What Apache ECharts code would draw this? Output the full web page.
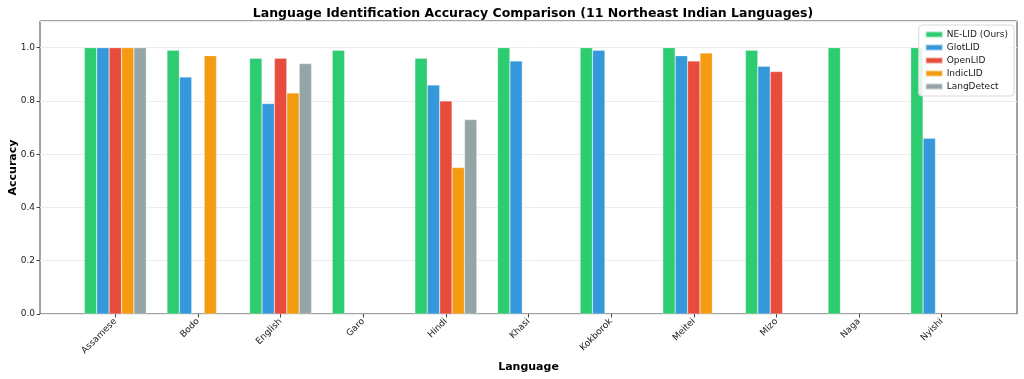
<!DOCTYPE html>
<html>
<head>
<meta charset="utf-8">
<script src="https://cdn.jsdelivr.net/npm/echarts@6/dist/echarts.min.js"></script>
<style>html,body{margin:0;padding:0;background:#fff}#c{width:1024px;height:379px}</style>
</head>
<body>
<div id="c"></div>
<script>
const categories = ['Assamese','Bodo','English','Garo','Hindi','Khasi','Kokborok','Meitei','Mizo','Naga','Nyishi'];
const seriesNames = ['NE-LID (Ours)','GlotLID','OpenLID','IndicLID','LangDetect'];
const neLid      = [1.00, 0.99, 0.96, 0.99, 0.96, 1.00, 1.00, 1.00, 0.99, 1.00, 1.00];
const glotLid    = [1.00, 0.89, 0.79, null, 0.86, 0.95, 0.99, 0.97, 0.93, null, 0.66];
const openLid    = [1.00, null, 0.96, null, 0.80, null, null, 0.95, 0.91, null, null];
const indicLid   = [1.00, 0.97, 0.83, null, 0.55, null, null, 0.98, null, null, null];
const langDetect = [1.00, null, 0.94, null, 0.73, null, null, null, null, null, null];
const colors = ['#2ecc71','#3498db','#e74c3c','#f39c12','#95a5a6'];
const yTicks = [0, 0.2, 0.4, 0.6, 0.8, 1.0];

const font = 'DejaVu Sans';
const allData = [neLid, glotLid, openLid, indicLid, langDetect];

const chart = echarts.init(document.getElementById('c'), null, {renderer: 'canvas'});
chart.setOption({
  animation: false,
  textStyle: {fontFamily: font},
  title: {
    text: 'Language Identification Accuracy Comparison (11 Northeast Indian Languages)',
    left: 528, top: 2, textAlign: 'center',
    textStyle: {fontFamily: font, fontSize: 12.5, fontWeight: 'bold', color: '#000'}
  },
  legend: {
    data: seriesNames,
    orient: 'vertical', right: 10, top: 25,
    icon: 'rect', itemWidth: 17, itemHeight: 6, itemGap: 4,
    padding: [5, 6, 5, 6],
    backgroundColor: 'rgba(255,255,255,0.85)',
    borderColor: '#d8d8d8', borderWidth: 1, borderRadius: 3,
    textStyle: {fontFamily: font, fontSize: 9, color: '#222', padding: [0,0,0,-1]}
  },
  grid: [
    {left: 40, right: 7, top: 21, bottom: 65, outerBoundsMode: 'none', containLabel: false, show: true, borderColor: '#444', borderWidth: 1, backgroundColor: 'transparent'},
    {left: 74, right: 41, top: 21, bottom: 65, outerBoundsMode: 'none', containLabel: false}
  ],
  xAxis: [
    {type: 'value', gridIndex: 0, min: 0, max: 1, show: false},
    {
      type: 'category', gridIndex: 1, data: categories,
      axisLine: {show: false},
      axisTick: {show: true, alignWithLabel: true, length: 3.5, lineStyle: {color: '#444'}},
      axisLabel: {rotate: 45, fontSize: 9, color: '#222', margin: 6, fontFamily: font, interval: 0},
      name: 'Language', nameLocation: 'middle', nameGap: 48, nameMoveOverlap: false,
      nameTextStyle: {fontFamily: font, fontSize: 11, fontWeight: 'bold', color: '#000'}
    }
  ],
  yAxis: [
    {
      type: 'value', gridIndex: 0, min: 0, max: 1.1, interval: 0.2,
      axisLine: {show: false},
      axisTick: {show: true, length: 3.5, lineStyle: {color: '#444'}},
      axisLabel: {
        fontSize: 9, color: '#222', margin: 5, fontFamily: font, showMaxLabel: false,
        formatter: v => yTicks.some(t => Math.abs(t - v) < 1e-9) ? v.toFixed(1) : ''
      },
      splitLine: {show: true, lineStyle: {color: '#ececec', width: 1}},
      name: 'Accuracy', nameLocation: 'middle', nameGap: 21, nameRotate: 90, nameMoveOverlap: false,
      nameTextStyle: {fontFamily: font, fontSize: 11, fontWeight: 'bold', color: '#000'}
    },
    {type: 'value', gridIndex: 1, min: 0, max: 1.1, show: false}
  ],
  series: seriesNames.map((name, i) => ({
    name, type: 'bar', xAxisIndex: 1, yAxisIndex: 1,
    data: allData[i],
    barWidth: '15%', barGap: '0%',
    itemStyle: {color: colors[i], borderColor: 'rgba(255,255,255,0.5)', borderWidth: 0.5}
  }))
});
</script>
</body>
</html>
